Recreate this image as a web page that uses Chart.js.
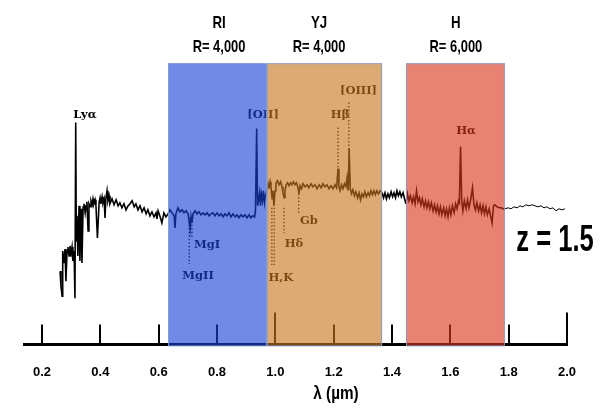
<!DOCTYPE html>
<html>
<head>
<meta charset="utf-8">
<script src="https://cdn.jsdelivr.net/npm/chart.js@4.4.1/dist/chart.umd.min.js"></script>
<style>
  html, body { margin: 0; padding: 0; background: #fff; }
</style>
</head>
<body>
<canvas id="chart" width="606" height="409"></canvas>
<script>
// spectrum pieces, [wavelength in micron, flux in arbitrary units]
const uvSpec = [[0.262,79],[0.265,64],[0.269,54],[0.270,94],[0.272,99],[0.275,87],[0.279,101],[0.282,69],[0.286,99],[0.289,103],[0.293,94],[0.296,104],[0.300,97],[0.303,103],[0.306,89],[0.310,99],[0.313,52],[0.3156,227],[0.3177,109],[0.320,134],[0.323,94],[0.327,144],[0.330,89],[0.334,141],[0.337,87],[0.341,143],[0.344,146],[0.348,137],[0.351,144],[0.354,148],[0.358,119],[0.361,146],[0.365,143],[0.368,149],[0.372,145],[0.375,151],[0.378,146],[0.382,150],[0.385,144],[0.390,112],[0.396,148],[0.399,152],[0.402,146],[0.406,153],[0.409,147],[0.413,151],[0.416,132],[0.419,151],[0.423,159],[0.426,149],[0.430,154],[0.433,146],[0.440,151],[0.447,145],[0.454,150],[0.461,144],[0.467,147],[0.474,142],[0.481,146],[0.488,140],[0.495,144],[0.502,146],[0.509,149],[0.516,143],[0.522,146],[0.529,140],[0.536,144],[0.543,138],[0.550,142],[0.557,136],[0.563,140],[0.570,134],[0.577,138],[0.584,133],[0.591,137],[0.594,131],[0.598,139],[0.605,133],[0.611,127],[0.618,137],[0.625,133],[0.632,136]];
const riSpec = [[0.632,136],[0.639,140],[0.646,137],[0.653,134],[0.656,122],[0.659,136],[0.666,142],[0.673,138],[0.680,140],[0.687,137],[0.694,139],[0.701,136],[0.708,121],[0.711,133],[0.714,127],[0.718,136],[0.725,139],[0.731,136],[0.738,138],[0.745,135],[0.752,137],[0.759,135],[0.766,137],[0.773,134],[0.779,136],[0.786,137],[0.793,134],[0.800,137],[0.807,134],[0.814,136],[0.821,133],[0.827,136],[0.834,134],[0.841,137],[0.848,133],[0.855,136],[0.862,133],[0.869,135],[0.875,132],[0.882,135],[0.889,133],[0.896,135],[0.903,132],[0.910,135],[0.916,132],[0.923,134],[0.929,133],[0.932,140],[0.936,221],[0.939,144],[0.942,149],[0.946,157],[0.949,144],[0.952,156],[0.956,149],[0.959,159],[0.963,147],[0.966,154],[0.971,159]];
const yjSpec = [[0.971,159],[0.975,166],[0.978,161],[0.982,168],[0.985,163],[0.989,151],[0.992,159],[0.995,144],[0.999,159],[1.002,166],[1.007,169],[1.013,165],[1.018,168],[1.023,163],[1.026,157],[1.030,152],[1.033,159],[1.037,165],[1.042,167],[1.047,164],[1.052,167],[1.057,165],[1.062,168],[1.067,165],[1.072,167],[1.078,162],[1.081,156],[1.085,164],[1.090,161],[1.095,166],[1.102,163],[1.109,165],[1.115,162],[1.122,166],[1.129,163],[1.136,165],[1.143,161],[1.150,165],[1.157,162],[1.163,166],[1.170,163],[1.177,165],[1.184,161],[1.191,164],[1.198,161],[1.205,165],[1.210,162],[1.215,181],[1.218,163],[1.222,159],[1.227,165],[1.232,161],[1.237,166],[1.242,163],[1.246,172],[1.250,159],[1.253,201],[1.257,161],[1.261,156],[1.266,160],[1.271,154],[1.276,158],[1.282,152],[1.287,157],[1.292,150],[1.297,156],[1.302,153],[1.307,158],[1.312,153],[1.318,157],[1.323,154],[1.328,159],[1.333,155],[1.338,159],[1.343,155],[1.348,159],[1.354,156],[1.359,159],[1.366,157]];
const gapSpec = [[1.366,157],[1.371,152],[1.376,157],[1.381,151],[1.386,156],[1.391,152],[1.397,158],[1.402,153],[1.407,157],[1.412,152],[1.417,159],[1.422,154],[1.427,158],[1.432,153],[1.438,157],[1.443,151],[1.448,146]];
const hSpec = [[1.448,146],[1.453,156],[1.458,149],[1.463,154],[1.469,147],[1.474,153],[1.479,146],[1.484,159],[1.489,148],[1.494,152],[1.499,145],[1.504,151],[1.510,143],[1.515,149],[1.520,142],[1.525,148],[1.530,141],[1.535,147],[1.541,139],[1.546,145],[1.551,138],[1.556,144],[1.561,136],[1.566,143],[1.571,135],[1.577,142],[1.582,134],[1.587,141],[1.592,133],[1.597,142],[1.602,135],[1.607,144],[1.613,137],[1.618,146],[1.623,141],[1.628,149],[1.631,147],[1.635,203],[1.639,149],[1.643,139],[1.648,149],[1.654,141],[1.659,150],[1.664,142],[1.669,149],[1.676,162],[1.681,145],[1.686,140],[1.691,147],[1.697,139],[1.702,145],[1.707,137],[1.712,144],[1.717,136],[1.722,143],[1.727,135],[1.733,141],[1.738,134],[1.743,127],[1.748,144],[1.753,145],[1.760,143],[1.767,142],[1.774,142],[1.781,141],[1.787,141]];
const tailSpec = [[1.787,141],[1.798,142],[1.808,141],[1.818,143],[1.829,142],[1.839,144],[1.849,143],[1.859,145],[1.870,144],[1.880,145],[1.890,144],[1.901,143],[1.911,144],[1.921,142],[1.931,143],[1.942,141],[1.952,142],[1.962,139],[1.973,141],[1.983,140],[1.993,141]];

// spectrograph arms
const bandNames = ['RI', 'YJ', 'H'];
const bandRes = ['R= 4,000', 'R= 4,000', 'R= 6,000'];
const bandStart = [0.632, 0.971, 1.448];
const bandEnd = [0.971, 1.366, 1.787];
const bandLabelAt = [0.807, 1.150, 1.619];
const bandTop = 286;

// line identifications: label anchor, and the dotted marker under it
const lineNames = ['Lyα', '[OII]', 'MgI', 'MgII', 'H,K', 'Hδ', 'Gb', 'Hβ', '[OIII]', 'Hα'];
const lineLabelLam = [0.347, 0.958, 0.766, 0.735, 1.019, 1.064, 1.115, 1.222, 1.285, 1.654];
const lineLabelFlux = [234, 234, 105, 74, 72, 106, 129, 234, 258, 218];
const markerLam = [0.705, 0.714, 0.988, 0.996, 1.030, 1.080, 1.215, 1.252];
const markerTop = [132, 132, 142, 142, 142, 156, 222, 247];
const markerBottom = [86, 111, 85, 85, 117, 135, 178, 199];

const tickValues = [0.2, 0.4, 0.6, 0.8, 1.0, 1.2, 1.4, 1.6, 1.8, 2.0];
const longTicks = [1.0, 2.0];
const redshift = 'z = 1.5';

const bandColors = ['rgba(26,66,214,0.62)', 'rgba(198,118,29,0.62)', 'rgba(218,53,29,0.62)'];
const sans = '"Liberation Sans", Arial, sans-serif';

function toPoints(arr) {
    return arr.map(p => ({ x: p[0], y: p[1] }));
}

// the reference uses a condensed sans, so squeeze it horizontally
function squeezedText(ctx, text, x, y, sx) {
    ctx.save();
    ctx.translate(x, y);
    ctx.scale(sx, 1);
    ctx.fillText(text, 0, 0);
    ctx.restore();
}

const datasets = [];
[uvSpec, riSpec, yjSpec, gapSpec, hSpec].forEach(seg => {
    datasets.push({ data: toPoints(seg), borderColor: '#000', borderWidth: 1.6, showLine: true, pointRadius: 0, tension: 0 });
});
datasets.push({ data: toPoints(tailSpec), borderColor: '#000', borderWidth: 1, showLine: true, pointRadius: 0, tension: 0 });
markerLam.forEach((lam, i) => {
    datasets.push({
        data: [{ x: lam, y: markerTop[i] }, { x: lam, y: markerBottom[i] }],
        borderColor: '#000', borderWidth: 1.3, borderDash: [1.5, 2], showLine: true, pointRadius: 0
    });
});

const decorations = {
    id: 'decorations',
    afterDatasetsDraw(chart) {
        const { ctx, chartArea: area, scales: { x, y } } = chart;
        ctx.save();

        // tick marks point up from the axis
        ctx.strokeStyle = '#000';
        ctx.lineWidth = 2;
        tickValues.forEach(v => {
            const px = Math.round(x.getPixelForValue(v));
            const h = longTicks.includes(v) ? 32 : 20;
            ctx.beginPath();
            ctx.moveTo(px, area.bottom);
            ctx.lineTo(px, area.bottom - h);
            ctx.stroke();
        });

        ctx.fillStyle = '#000';
        ctx.font = 'bold 11.5px "DejaVu Serif"';
        ctx.textAlign = 'center';
        ctx.textBaseline = 'middle';
        lineNames.forEach((name, i) => {
            ctx.fillText(name, x.getPixelForValue(lineLabelLam[i]), y.getPixelForValue(lineLabelFlux[i]));
        });

        // the arm windows are laid over everything, tinting what is under them
        const top = y.getPixelForValue(bandTop);
        bandStart.forEach((s, i) => {
            const x0 = x.getPixelForValue(s);
            const x1 = x.getPixelForValue(bandEnd[i]);
            ctx.fillStyle = bandColors[i];
            ctx.fillRect(x0, top, x1 - x0, area.bottom + 1.5 - top);
            ctx.strokeStyle = 'rgba(135,160,210,0.9)';
            ctx.lineWidth = 1;
            ctx.strokeRect(x0 + 0.5, top + 0.5, x1 - x0 - 1, area.bottom + 1 - top);

            ctx.fillStyle = '#000';
            ctx.font = 'bold 17px ' + sans;
            const cx = x.getPixelForValue(bandLabelAt[i]);
            squeezedText(ctx, bandNames[i], cx, top - 40, 0.78);
            squeezedText(ctx, bandRes[i], cx, top - 16, 0.76);
        });

        ctx.fillStyle = '#000';
        ctx.font = 'bold 36px ' + sans;
        squeezedText(ctx, redshift, area.right - 12, y.getPixelForValue(109), 0.71);

        ctx.font = 'bold 18px ' + sans;
        squeezedText(ctx, 'λ (µm)', x.getPixelForValue(1.208), area.bottom + 50, 0.85);
        ctx.restore();
    }
};

new Chart(document.getElementById('chart'), {
    type: 'scatter',
    data: { datasets: datasets },
    options: {
        responsive: false,
        animation: false,
        devicePixelRatio: 1,
        layout: { padding: { top: 13, left: 24, right: 39, bottom: 9 } },
        plugins: {
            legend: { display: false },
            tooltip: { enabled: false }
        },
        scales: {
            x: {
                type: 'linear',
                min: 0.1383,
                max: 2.0,
                afterBuildTicks: scale => {
                    scale.ticks = tickValues.map(v => ({ value: v }));
                },
                ticks: {
                    callback: v => v.toFixed(1),
                    color: '#000',
                    font: { family: sans, size: 13, weight: 'bold' },
                    padding: 20,
                    maxRotation: 0,
                    autoSkip: false
                },
                grid: { display: false, drawTicks: false },
                border: { display: true, color: '#000', width: 3 }
            },
            y: { display: false, min: 6, max: 336 }
        }
    },
    plugins: [decorations]
});
</script>
</body>
</html>
